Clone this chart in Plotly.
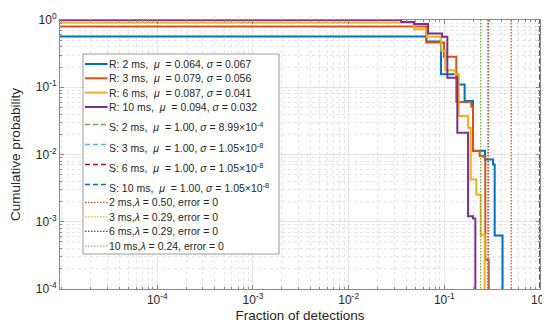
import plotly.graph_objects as go

# ---------------- data ----------------
# R curves: step points (x where the curve steps down, new level)
r2_x = [1e-6, 0.0649, 0.0924, 0.139, 0.163, 0.1995, 0.266, 0.323, 0.336, 0.406]
r2_y = [0.57, 0.478, 0.156, 0.110, 0.0625, 0.01135, 0.00843, 0.0071, 6.25e-4, 1e-6]

r3_x = [1e-6, 0.0649, 0.0993, 0.1334, 0.1915, 0.1995, 0.2344, 0.268, 0.291]
r3_y = [0.80, 0.462, 0.283, 0.0604, 0.0514, 0.01124, 0.00947, 2.72e-4, 1e-6]

r6_x = [1e-6, 0.0482, 0.066, 0.093, 0.1024, 0.130, 0.1414, 0.177, 0.1888, 0.216, 0.240, 0.264]
r6_y = [0.918, 0.729, 0.562, 0.348, 0.179, 0.1556, 0.0374, 0.025, 0.00424, 0.00251, 6.43e-4, 1e-6]

r10_x = [1e-6, 0.0355, 0.0482, 0.0676, 0.0946, 0.1075, 0.1367, 0.177, 0.1995, 0.211]
r10_y = [1.0, 0.933, 0.872, 0.629, 0.562, 0.139, 0.0211, 0.00121, 0.00112, 1e-6]

# S curves: vertical drop at x ~ 1
s_x = [0.993, 1.0, 1.0, 1.0]
s_y = [1e-6, 1.0]

# threshold lambdas (dotted verticals)
lam_x = [0.50, 0.29, 0.286, 0.24]

NB = "\u00a0"
r_names = ["R: 2 ms," + NB + " <i>μ</i>" + NB + " = 0.064, <i>σ</i> = 0.067",
           "R: 3 ms," + NB + " <i>μ</i>" + NB + " = 0.079, <i>σ</i> = 0.056",
           "R: 6 ms," + NB + " <i>μ</i>" + NB + " = 0.087, <i>σ</i> = 0.041",
           "R: 10 ms," + NB + " <i>μ</i>" + NB + " = 0.094, <i>σ</i> = 0.032"]
s_names = ["S: 2 ms," + NB + " <i>μ</i>" + NB + " = 1.00, <i>σ</i> = 8.99×10<sup>-4</sup>",
           "S: 3 ms," + NB + " <i>μ</i>" + NB + " = 1.00, <i>σ</i> = 1.05×10<sup>-8</sup>",
           "S: 6 ms," + NB + " <i>μ</i>" + NB + " = 1.00, <i>σ</i> = 1.05×10<sup>-8</sup>",
           "S: 10 ms," + NB + " <i>μ</i>" + NB + " = 1.00, <i>σ</i> = 1.05×10<sup>-8</sup>"]
lam_names = ["2 ms,<i>λ</i> = 0.50, error = 0",
             "3 ms,<i>λ</i> = 0.29, error = 0",
             "6 ms,<i>λ</i> = 0.29, error = 0",
             "10 ms,<i>λ</i> = 0.24, error = 0"]

tick_vals = [1e-4, 1e-3, 1e-2, 1e-1, 1]
tick_text = ["10<sup>-4</sup>", "10<sup>-3</sup>", "10<sup>-2</sup>", "10<sup>-1</sup>", "10<sup>0</sup>"]

# ---------------- styles ----------------
r_colors = ["#0072BD", "#D95319", "#EDB120", "#7E2F8E"]
s_colors = ["#77AC30", "#4DBEEE", "#A2142F", "#0072BD"]
lam_colors = ["#D95319", "#EDB120", "#7E2F8E", "#77AC30"]
R_W, S_W, L_W = 2, 1.6, 1.2
S_DASH, L_DASH = "5px,3px", "1.5px,1.5px"
FONT = "Liberation Sans"

# target plot-area box in screenshot pixels
W, H = 550, 332
PL, PR, PT, PB = 52, 532, 12, 281
ML, MT = PL, PT
MR, MB = W - PR, H - PB


def px(xp):
    return (xp - PL) / (PR - PL)


def py(yp):
    return (PB - yp) / (PB - PT)


fig = go.Figure()

r_data = [(r2_x, r2_y), (r3_x, r3_y), (r6_x, r6_y), (r10_x, r10_y)]
for (xs, ys), name, c in zip(r_data, r_names, r_colors):
    fig.add_trace(go.Scatter(x=xs, y=ys, mode="lines", name=name, showlegend=False,
                             line=dict(color=c, width=R_W, shape="hv")))

for sx, name, c in zip(s_x, s_names, s_colors):
    fig.add_trace(go.Scatter(x=[sx, sx], y=s_y, mode="lines", name=name, showlegend=False,
                             line=dict(color=c, width=S_W, dash=S_DASH)))

for lx, name, c in zip(lam_x, lam_names, lam_colors):
    fig.add_trace(go.Scatter(x=[lx, lx], y=s_y, mode="lines", name=name, showlegend=False,
                             line=dict(color=c, width=L_W, dash=L_DASH)))

# ---------------- legend box (drawn by hand to match MATLAB spacing) ----------------
box_l, box_r, box_t, box_b = 75, 271, 46, 246
shapes = [dict(type="rect", xref="paper", yref="paper",
               x0=px(box_l), x1=px(box_r), y0=py(box_b), y1=py(box_t),
               fillcolor="white", line=dict(color="#9a9a9a", width=1), layer="above")]
annotations = []

entries = []
line_y = [56, 70.3, 84.6, 99]
for name, c, ly in zip(r_names, r_colors, line_y):
    entries.append((name, c, R_W, "solid", ly, ly))
s_line_y = [116.5, 136.5, 156.5, 176.5]
for name, c, ly in zip(s_names, s_colors, s_line_y):
    entries.append((name, c, S_W, S_DASH, ly, ly + 2.5))
l_line_y = [194.3, 208.8, 223.3, 238]
for name, c, ly in zip(lam_names, lam_colors, l_line_y):
    entries.append((name, c, L_W, L_DASH, ly, ly))

for name, c, lw, dash, ly, ty in entries:
    shapes.append(dict(type="line", xref="paper", yref="paper",
                       x0=px(77), x1=px(99.5), y0=py(ly), y1=py(ly),
                       line=dict(color=c, width=lw, dash=dash), layer="above"))
    annotations.append(dict(text=name, xref="paper", yref="paper",
                            x=px(100), y=py(ty), xanchor="left", yanchor="middle",
                            showarrow=False, borderpad=0,
                            font=dict(family=FONT, size=10.5, color="#262626")))

axis_common = dict(
    type="log", showline=True, linecolor="#8a8a8a", linewidth=1,
    mirror="allticks", ticks="inside", ticklen=4, tickcolor="#8a8a8a",
    showgrid=True, gridcolor="#e6e6e6", gridwidth=1, zeroline=False,
    automargin=False,
    tickfont=dict(family=FONT, size=12, color="#262626"),
    tickmode="array", tickvals=tick_vals, ticktext=tick_text,
    minor=dict(dtick="D1", ticks="inside", ticklen=2, tickcolor="#8a8a8a",
               showgrid=True, gridcolor="#e6e6e6", griddash="dot"),
)

fig.update_layout(
    width=W, height=H,
    margin=dict(l=ML, r=MR, t=MT, b=MB, autoexpand=False),
    paper_bgcolor="white", plot_bgcolor="white",
    font=dict(family=FONT, size=12, color="#262626"),
    xaxis=dict(axis_common, range=[-5.017, 0],
               title=dict(text="Fraction of detections", standoff=4,
                          font=dict(size=13.5, color="#262626"))),
    yaxis=dict(axis_common, range=[-4, 0],
               title=dict(text="Cumulative probability", standoff=15,
                          font=dict(size=13.5, color="#262626"))),
    shapes=shapes,
    annotations=annotations,
    showlegend=False,
)

fig.write_html("out.html")
